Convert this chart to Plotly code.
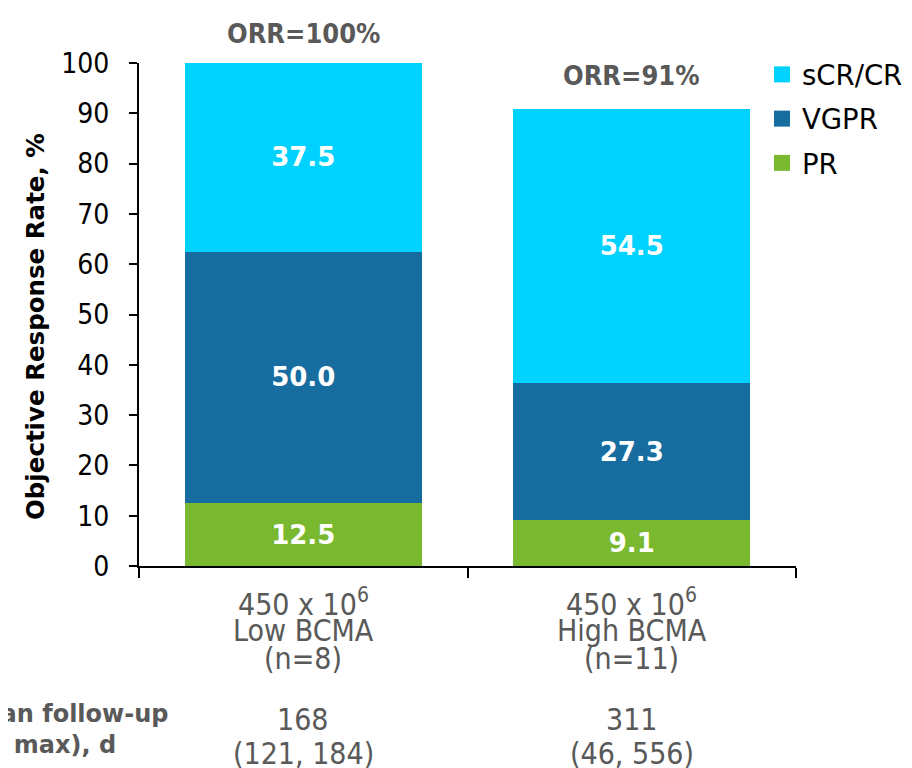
import plotly.graph_objects as go

categories = ["Low BCMA", "High BCMA"]
dose_labels = ["450 x 10<sup>6</sup>", "450 x 10<sup>6</sup>"]
n_labels = ["(n=8)", "(n=11)"]
pr = [12.5, 9.1]
vgpr = [50.0, 27.3]
scr_cr = [37.5, 54.5]
orr_labels = ["ORR=100%", "ORR=91%"]
followup_median = ["168", "311"]
followup_range = ["(121, 184)", "(46, 556)"]
y_ticks = list(range(0, 101, 10))

COND = "DejaVu Sans Condensed"
MAIN = "DejaVu Sans"
GRAY = "#595959"

# The page body adds an 8px offset; geometry below is in figure pixels.
OFF = 8
W, HT = 912, 768
L, T = 139 - OFF, 63 - OFF
PW, PH = 657, 503
R = W - L - PW
B = HT - T - PH


def py(screen_px):
    return (T + PH - (screen_px - OFF)) / PH


def pxx(screen_px):
    return (screen_px - OFF - L) / PW


series = [("PR", pr, "#7AB92F"), ("VGPR", vgpr, "#176DA0"), ("sCR/CR", scr_cr, "#00D2FF")]

fig = go.Figure()
for name, vals, color in series:
    fig.add_trace(go.Bar(
        x=categories, y=vals, name=name, showlegend=False,
        marker=dict(color=color, line=dict(width=0)),
        text=[f"<b>{v:.1f}</b>" for v in vals], textposition="inside", insidetextanchor="middle",
        textfont=dict(color="white", size=26, family=MAIN), constraintext="none",
    ))

# legend entries (square swatches), top to bottom
for name, vals, color in reversed(series):
    fig.add_trace(go.Scatter(
        x=[None], y=[None], mode="markers", name=name, legendgroup=name,
        marker=dict(symbol="square", size=17, color=color, line=dict(width=0)),
    ))

totals = [a + b + c for a, b, c in zip(pr, vgpr, scr_cr)]
for (cat, tot, lab), shift in zip(zip(categories, totals, orr_labels), [12, 16]):
    fig.add_annotation(x=cat, y=tot, text=f"<b>{lab}</b>", showarrow=False, yanchor="bottom",
                       yshift=shift, font=dict(size=27, color=GRAY, family=COND))

for cat, dose, n in zip(categories, dose_labels, n_labels):
    for txt, ypx in [(dose, 602), (cat, 630), (n, 658)]:
        fig.add_annotation(x=cat, xref="x", y=py(ypx), yref="paper", text=txt, showarrow=False,
                           yanchor="middle", font=dict(size=30, color=GRAY, family=COND))

for cat, med, rng in zip(categories, followup_median, followup_range):
    for txt, ypx in [(med, 719), (rng, 753)]:
        fig.add_annotation(x=cat, xref="x", y=py(ypx), yref="paper", text=txt, showarrow=False,
                           yanchor="middle", font=dict(size=30, color=GRAY, family=COND))

fig.add_annotation(x=pxx(170), xref="paper", y=py(729), yref="paper",
                   text="<b>Median follow-up<br>(min, max), d</b>", showarrow=False,
                   xanchor="right", yanchor="middle", align="left",
                   font=dict(size=24, color=GRAY, family=MAIN))

fig.add_annotation(x=pxx(35), xref="paper", y=py(327), yref="paper",
                   text="<b>Objective Response Rate, %</b>", showarrow=False, textangle=-90,
                   xanchor="center", yanchor="middle", font=dict(size=24.5, color="black", family=MAIN))

fig.update_layout(
    barmode="stack", bargap=0.278, width=W, height=HT,
    margin=dict(l=L, r=R, t=T, b=B, autoexpand=False),
    paper_bgcolor="white", plot_bgcolor="white",
    font=dict(family=MAIN, color="black"),
    legend=dict(x=pxx(762), xanchor="left", y=py(50), yanchor="top", traceorder="grouped",
                tracegroupgap=5.5, font=dict(size=27.5, color="black", family=MAIN), itemwidth=30,
                bgcolor="rgba(0,0,0,0)", itemsizing="trace"),
    xaxis=dict(showline=True, linecolor="black", linewidth=2, ticks="outside", tickson="boundaries",
               ticklen=10, tickcolor="black", tickwidth=1.5, showticklabels=False, automargin=False),
    yaxis=dict(range=[0, 100], tickvals=y_ticks, showline=True, linecolor="black", linewidth=2, ticks="outside",
               ticklen=8, tickcolor="black", tickwidth=1.5, showgrid=False, zeroline=False, automargin=False,
               ticklabelstandoff=14, tickfont=dict(size=28, color="black", family=COND)),
)

fig.write_html("out.html")
